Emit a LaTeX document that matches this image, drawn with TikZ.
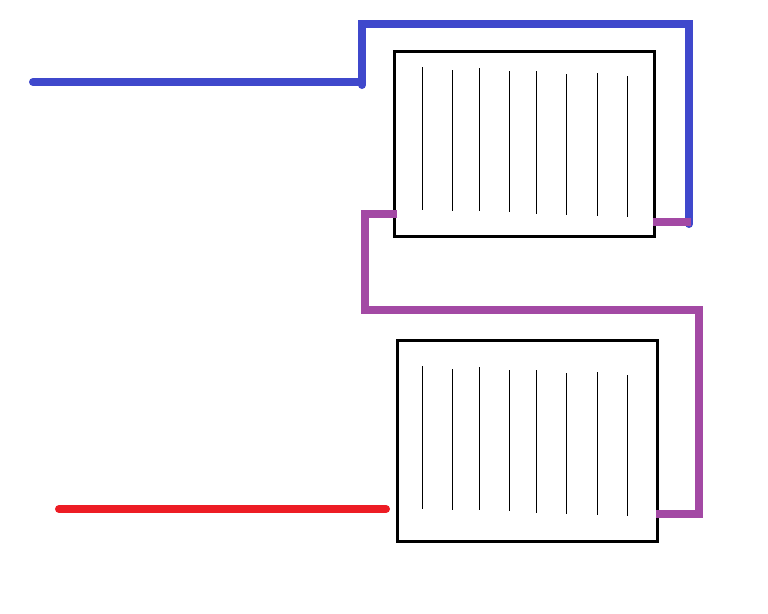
\documentclass[tikz,border=0pt]{standalone}
\definecolor{pipeblue}{HTML}{3F48CC}
\definecolor{pipepurple}{HTML}{A349A4}
\definecolor{pipered}{HTML}{ED1C24}
\tikzset{
  radiator/.style={draw=black,line width=2.25pt,inner sep=0pt,outer sep=0pt,fill=none,rectangle},
  fin/.style={draw=black,line width=0.75pt},
  pipe/.style={line width=6pt,line join=miter,line cap=round},
  coldpipe/.style={pipe,draw=pipeblue},
  linkpipe/.style={pipe,draw=pipepurple},
  hotpipe/.style={pipe,draw=pipered}
}
\begin{document}
\begin{tikzpicture}[x=0.75pt,y=-0.75pt]
\useasboundingbox (0,0) rectangle (768,614);
% radiators
\node[radiator,minimum width=195.2pt,minimum height=138.6pt,anchor=north west] (top) at (394.5,51.5) {};
\node[radiator,minimum width=195.2pt,minimum height=150.45pt,anchor=north west] (bot) at (397.5,340.7) {};
% fins
\foreach \x/\a/\b [count=\i] in {422.3/67/209.7,452.3/70/210.7,479.3/68/211,509.3/71/211.7,536.3/71/213.7,566.3/74/214.7,597.3/73/215.7,627.3/76/216.7}{
  \coordinate (ta\i) at (\x,\a); \coordinate (tb\i) at (\x,\b);
  \draw[fin] (ta\i) -- (tb\i);
}
\foreach \x/\a/\b [count=\i] in {422.3/366/508.7,452.3/369/510,479.3/367/510,509.3/370/511,536.3/370/513,566.3/373/514,597.3/372/515,627.3/375/516}{
  \coordinate (ba\i) at (\x,\a); \coordinate (bb\i) at (\x,\b);
  \draw[fin] (ba\i) -- (bb\i);
}
% pipe points
\coordinate (c0) at (33,82);
\coordinate (c1) at (362,82);
\coordinate (c1e) at (362,85);
\coordinate (c2) at (362,23.7);
\coordinate (c3) at (689,23.7);
\coordinate (c4) at (689,224);
\coordinate (l0) at (653,222);
\coordinate (l1) at (690.5,222);
\coordinate (m0) at (397,214);
\coordinate (m1) at (365,214);
\coordinate (m2) at (365,310);
\coordinate (m2w) at (361,310);
\coordinate (m3) at (699,310);
\coordinate (m4) at (699,514);
\coordinate (m5) at (656,514);
\coordinate (r0) at (59,509);
\coordinate (r1) at (386,509);
% pipes
\draw[coldpipe] (c0) -- (c1);
\draw[coldpipe] (c1e) -- (c2) -- (c3) -- (c4);
\draw[linkpipe,line cap=butt] (l0) -- (l1);
\draw[linkpipe,line cap=butt] (m0) -- (m1) -- (m2);
\draw[linkpipe,line cap=butt] (m2w) -- (m3) -- (m4) -- (m5);
\draw[hotpipe] (r0) -- (r1);
\end{tikzpicture}
\end{document}
